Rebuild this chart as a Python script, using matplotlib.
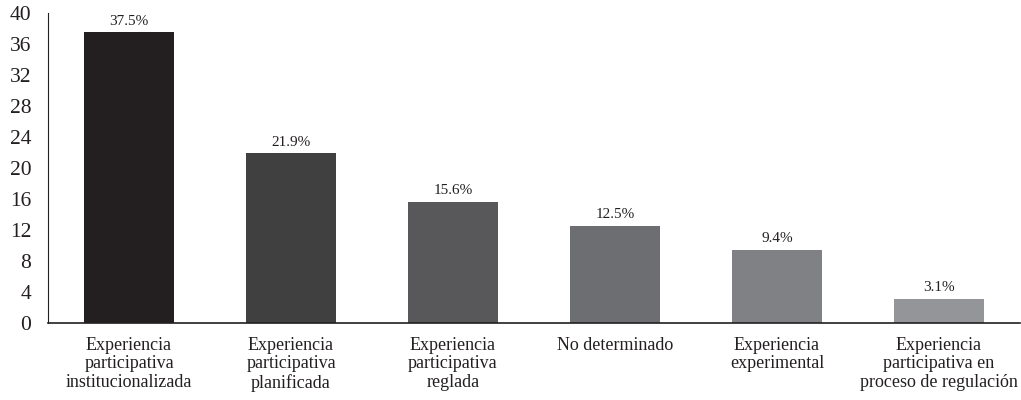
import matplotlib
matplotlib.use("Agg")
import matplotlib.pyplot as plt

categories = [
    "Experiencia\nparticipativa\ninstitucionalizada",
    "Experiencia\nparticipativa\nplanificada",
    "Experiencia\nparticipativa\nreglada",
    "No determinado",
    "Experiencia\nexperimental",
    "Experiencia\nparticipativa en\nproceso de regulación",
]
values = [37.5, 21.9, 15.6, 12.5, 9.4, 3.1]
colors = ["#231f20", "#404041", "#58585a", "#6d6e71", "#808184", "#939598"]

plt.rcParams["font.family"] = ["Liberation Serif", "DejaVu Serif"]

fig = plt.figure(figsize=(10.21, 4.0), dpi=100)
ax = fig.add_axes([0.047, 0.1925, 0.952, 0.775])

x = range(len(values))
bars = ax.bar(x, values, width=0.555, color=colors)
for b, v in zip(bars, values):
    ax.text(b.get_x() + b.get_width() / 2, v + 0.6, f"{v}%",
            ha="center", va="bottom", fontsize=11, color="#231f20")

ax.set_xlim(-0.5, 5.5)
ax.set_ylim(0, 40)
ax.set_yticks(range(0, 41, 4))
ax.set_xticks(list(x))
ax.set_xticklabels(categories, fontsize=13, linespacing=1.12)
ax.tick_params(axis="both", length=0, colors="#231f20")
ax.tick_params(axis="y", labelsize=15.5, pad=12)
ax.tick_params(axis="x", pad=10)

ax.spines["top"].set_visible(False)
ax.spines["right"].set_visible(False)
ax.spines["left"].set_color("#231f20")
ax.spines["bottom"].set_color("#231f20")
ax.spines["bottom"].set_linewidth(1.2)

fig.savefig("out.png", dpi=100)
